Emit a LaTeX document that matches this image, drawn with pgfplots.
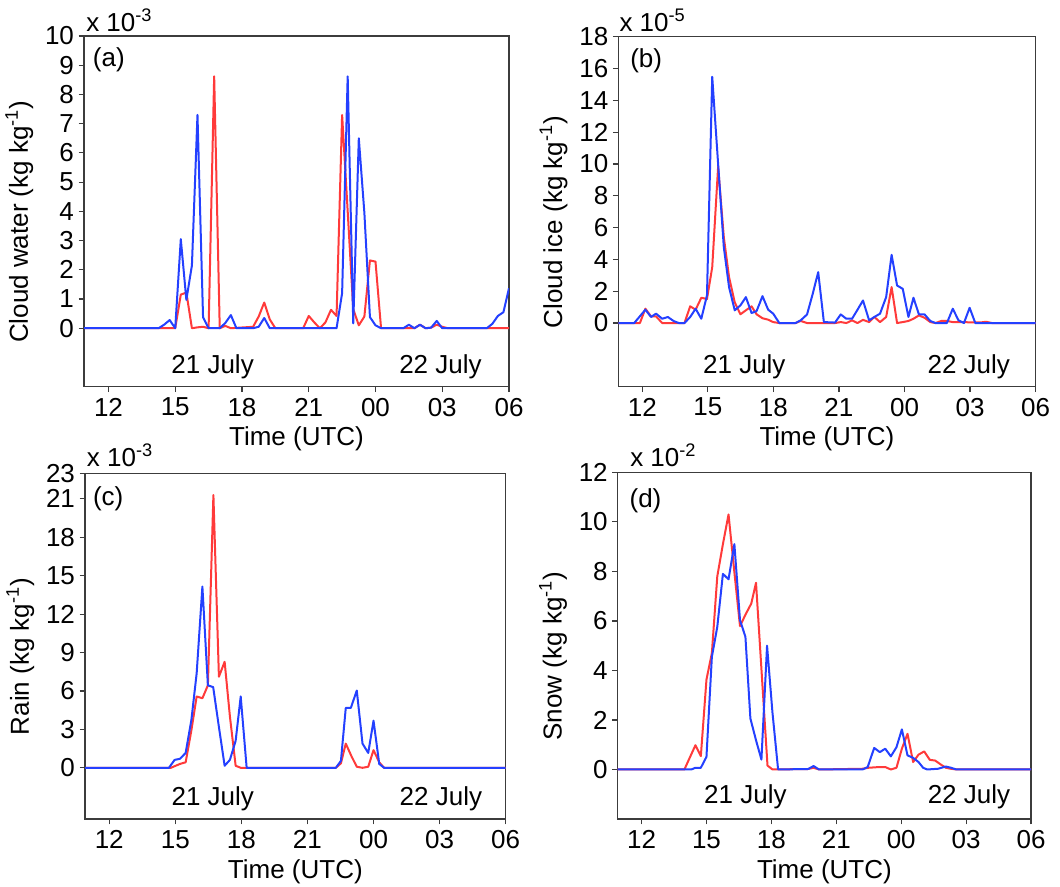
\documentclass[border=0pt]{standalone}
\usepackage{fontspec}
\setmainfont{Liberation Sans}
\usepackage{pgfplots}
\pgfplotsset{compat=1.18}

\definecolor{simred}{RGB}{255,58,58}
\definecolor{simblue}{RGB}{36,64,255}
\definecolor{frame}{RGB}{60,60,60}
\newcommand\lab{\fontsize{19.5}{23}\selectfont}

\pgfplotsset{
  panel/.style={
    scale only axis,
    xmin=10.9, xmax=30,
    xtick={12,15,18,21,24,27,30},
    xticklabels={12,15,18,21,00,03,06},
    tick pos=left, tick align=outside,
    major tick length=4pt,
    axis line style={frame, line width=0.9pt},
    every tick/.style={frame, line width=0.9pt},
    tick label style={font=\lab},
    xticklabel style={yshift=-1pt},
    label style={font=\lab},
    /pgf/number format/assume math mode=true,
    xlabel={Time (UTC)},
    xlabel style={yshift=-1pt},
    ylabel style={at={(ticklabel cs:0.47)}, yshift=2pt},
    clip mode=individual,
  },
  red line/.style={simred, line width=1.5pt, line join=round},
  blue line/.style={simblue, line width=1.5pt, line join=round},
}

\begin{document}
\begin{tikzpicture}
\path[use as bounding box] (0,0) rectangle (795pt,-664.5pt);

% (a) cloud water
\begin{axis}[panel, at={(63pt,-290pt)}, anchor=south west,
  width=318.75pt, height=263pt,
  ymin=-2, ymax=10, ytick={0,1,...,10},
  ylabel={Cloud water (kg kg\textsuperscript{-1})}]
\addplot[red line] coordinates {
(10.9,0)(14.75,0)(15.0,0)(15.25,1.15)(15.5,1.22)(15.75,0)(16.0,0.03)(16.25,0.05)
(16.5,0)(16.75,8.62)(17.0,0)(17.25,0.08)(17.5,0)(18.5,0.05)(18.75,0.4)(19.0,0.88)
(19.25,0.3)(19.5,0)(20.75,0)(21.0,0.42)(21.25,0.2)(21.5,0)(21.75,0.2)(22.0,0.63)
(22.25,0.42)(22.5,7.3)(22.75,4.0)(23.0,0.65)(23.25,0.1)(23.5,0.4)(23.75,2.32)
(24.0,2.28)(24.25,0)(25.75,0)(26.0,0.12)(26.25,0)(26.5,0.02)(26.75,0.12)(27.0,0.05)
(27.25,0)(30,0)};
\addplot[blue line] coordinates {
(10.9,0)(14.25,0)(14.5,0.12)(14.75,0.28)(15.0,0)(15.25,3.05)(15.5,0.97)(15.75,2.15)
(16.0,7.3)(16.25,0.38)(16.5,0)(17.0,0)(17.25,0.18)(17.5,0.45)(17.75,0)(18.5,0)
(18.75,0.05)(19.0,0.35)(19.25,0)(22.25,0)(22.5,1.2)(22.75,8.62)(23.0,0.17)(23.25,6.5)
(23.5,3.95)(23.75,0.38)(24.0,0.1)(24.25,0)(25.25,0)(25.5,0.12)(25.75,0)(26.0,0.12)
(26.25,0)(26.5,0.02)(26.75,0.25)(27.0,0)(29.0,0)(29.25,0.15)(29.5,0.42)(29.75,0.55)
(30.0,1.37)};
\node[font=\lab, anchor=base west, inner sep=0] at ([xshift=1.5pt,yshift=3.2pt]rel axis cs:0,1) {x 10\textsuperscript{-3}};
\node[font=\lab, anchor=base west, inner sep=0] at ([xshift=6.5pt,yshift=-23pt]rel axis cs:0,1) {(a)};
\node[font=\lab, anchor=base] at (axis cs:16.68,-1.55) {21 July};
\node[font=\lab, anchor=base] at (axis cs:26.92,-1.55) {22 July};
\end{axis}

% (b) cloud ice
\begin{axis}[panel, at={(463.7pt,-290pt)}, anchor=south west,
  width=313pt, height=262.5pt,
  ymin=-4, ymax=18, ytick={0,2,...,18},
  ylabel={Cloud ice (kg kg\textsuperscript{-1})}]
\addplot[red line] coordinates {
(10.9,0)(11.89,0)(12.14,0.9)(12.4,0.42)(12.63,0.42)(12.91,0)(13.93,0)(14.19,1.05)
(14.44,0.84)(14.7,1.59)(14.96,1.51)(15.2,3.51)(15.47,9.83)(15.73,5.4)(15.97,2.89)
(16.23,1.3)(16.49,0.55)(16.74,0.8)(17.0,1.05)(17.23,0.55)(17.5,0.3)(17.76,0.21)
(17.99,0.06)(18.27,0)(19.01,0)(19.25,0.13)(19.54,0)(20.82,0)(21.08,0.06)(21.34,0)
(21.6,0.17)(21.85,0)(22.1,0.2)(22.38,0.06)(22.62,0.38)(22.88,0.06)(23.16,0.38)
(23.41,2.26)(23.66,0)(23.92,0.06)(24.18,0.13)(24.41,0.27)(24.66,0.48)(24.92,0.33)
(25.18,0.06)(25.42,0)(25.68,0.13)(25.94,0.13)(26.21,0.06)(27.5,0.04)(27.74,0.08)
(28.0,0)(30,0)};
\addplot[blue line] coordinates {
(10.9,0)(11.63,0)(12.14,0.84)(12.4,0.38)(12.63,0.59)(12.91,0.27)(13.17,0.38)(13.43,0.13)
(13.67,0)(13.93,0)(14.19,0.38)(14.44,0.9)(14.7,0.27)(14.96,1.74)(15.2,15.48)(15.47,10.0)
(15.73,4.77)(15.97,2.26)(16.23,0.8)(16.49,1.11)(16.74,1.63)(17.0,0.63)(17.23,0.75)
(17.5,1.69)(17.76,0.84)(17.99,0.59)(18.27,0)(19.01,0)(19.25,0.17)(19.54,0.54)(19.8,1.84)
(20.05,3.2)(20.31,0.06)(20.82,0.03)(21.08,0.54)(21.34,0.27)(21.6,0.27)(21.85,0.84)
(22.1,1.42)(22.38,0.17)(22.62,0.38)(22.88,0.59)(23.16,1.63)(23.41,4.29)(23.66,2.36)
(23.92,2.15)(24.18,0.38)(24.41,1.59)(24.66,0.54)(24.92,0.54)(25.18,0.13)(25.42,0)
(25.94,0)(26.21,0.9)(26.47,0.17)(26.72,0)(26.98,0.96)(27.24,0)(30,0)};
\node[font=\lab, anchor=base west, inner sep=0] at ([xshift=0.75pt,yshift=3.75pt]rel axis cs:0,1) {x 10\textsuperscript{-5}};
\node[font=\lab, anchor=base west, inner sep=0] at ([xshift=8.8pt,yshift=-23pt]rel axis cs:0,1) {(b)};
\node[font=\lab, anchor=base] at (axis cs:16.67,-3.17) {21 July};
\node[font=\lab, anchor=base] at (axis cs:26.94,-3.17) {22 July};
\end{axis}

% (c) rain
\begin{axis}[panel, at={(63.75pt,-614.25pt)}, anchor=south west,
  width=315.5pt, height=259.3pt,
  ymin=-4, ymax=23, ytick={0,3,...,21,23},
  ylabel={Rain (kg kg\textsuperscript{-1})}]
\addplot[red line] coordinates {
(10.9,0)(14.8,0)(15.21,0.3)(15.47,0.43)(15.73,2.92)(15.97,5.57)(16.23,5.43)(16.48,6.44)
(16.73,21.3)(16.98,7.11)(17.24,8.28)(17.48,4.0)(17.74,0.16)(17.97,0)(22.29,0)
(22.52,0.35)(22.74,1.89)(23.0,0.9)(23.24,0.08)(23.5,0)(23.76,0.08)(24.0,1.38)
(24.26,0.43)(24.48,0)(30,0)};
\addplot[blue line] coordinates {
(10.9,0)(14.71,0)(14.97,0.62)(15.21,0.7)(15.47,1.16)(15.73,3.73)(15.97,7.38)(16.23,14.15)
(16.48,6.44)(16.72,6.3)(16.98,3.19)(17.24,0.16)(17.48,0.62)(17.74,2.11)(17.97,5.57)
(18.24,0)(22.29,0)(22.52,0.54)(22.74,4.68)(22.97,4.68)(23.24,6.03)(23.5,1.89)
(23.76,1.16)(24.0,3.68)(24.26,0.3)(24.48,0)(30,0)};
\node[font=\lab, anchor=base west, inner sep=0] at ([xshift=1.25pt,yshift=5pt]rel axis cs:0,1) {x 10\textsuperscript{-3}};
\node[font=\lab, anchor=base west, inner sep=0] at ([xshift=5.8pt,yshift=-24pt]rel axis cs:0,1) {(c)};
\node[font=\lab, anchor=base] at (axis cs:16.7,-2.92) {21 July};
\node[font=\lab, anchor=base] at (axis cs:27.06,-2.92) {22 July};
\end{axis}

% (d) snow
\begin{axis}[panel, at={(463.3pt,-614.25pt)}, anchor=south west,
  width=310pt, height=260pt,
  ymin=-2, ymax=12, ytick={0,2,...,12},
  ylabel={Snow (kg kg\textsuperscript{-1})}]
\addplot[red line] coordinates {
(10.9,0)(13.98,0)(14.49,0.98)(14.74,0.54)(15.0,3.63)(15.25,4.7)(15.5,7.8)(15.76,9.1)
(16.02,10.3)(16.28,8.05)(16.55,5.79)(16.8,6.25)(17.07,6.7)(17.29,7.54)(17.82,0.16)
(18.05,0)(19.7,0.02)(19.95,0.07)(20.2,0)(22.2,0.03)(22.5,0.07)(23.0,0.1)(23.26,0.1)
(23.52,0)(23.78,0.07)(24.03,0.84)(24.29,1.44)(24.55,0.3)(24.8,0.6)(25.06,0.73)
(25.32,0.39)(25.57,0.36)(25.83,0.2)(26.06,0.07)(26.29,0.03)(26.55,0)(30,0)};
\addplot[blue line] coordinates {
(10.9,0)(14.3,0)(14.49,0.07)(14.74,0.07)(15.0,0.51)(15.25,4.55)(15.5,5.76)(15.76,7.9)
(16.02,7.68)(16.29,9.1)(16.55,6.03)(16.8,5.36)(17.03,2.06)(17.29,1.18)(17.54,0.4)
(17.8,5.0)(18.05,2.3)(18.31,0)(19.7,0.02)(19.95,0.14)(20.2,0)(22.21,0)(22.45,0.1)
(22.75,0.87)(23.01,0.7)(23.26,0.84)(23.52,0.53)(23.78,0.9)(24.03,1.62)(24.29,0.57)
(24.55,0.47)(24.8,0.3)(25.01,0.07)(25.2,0)(25.7,0.03)(26.06,0.12)(26.3,0.07)
(26.55,0)(30,0)};
\node[font=\lab, anchor=base west, inner sep=0] at ([xshift=9.2pt,yshift=4.2pt]rel axis cs:0,1) {x 10\textsuperscript{-2}};
\node[font=\lab, anchor=base west, inner sep=0] at ([xshift=8.7pt,yshift=-26pt]rel axis cs:0,1) {(d)};
\node[font=\lab, anchor=base] at (axis cs:16.8,-1.39) {21 July};
\node[font=\lab, anchor=base] at (axis cs:27.13,-1.39) {22 July};
\end{axis}
\end{tikzpicture}
\end{document}
